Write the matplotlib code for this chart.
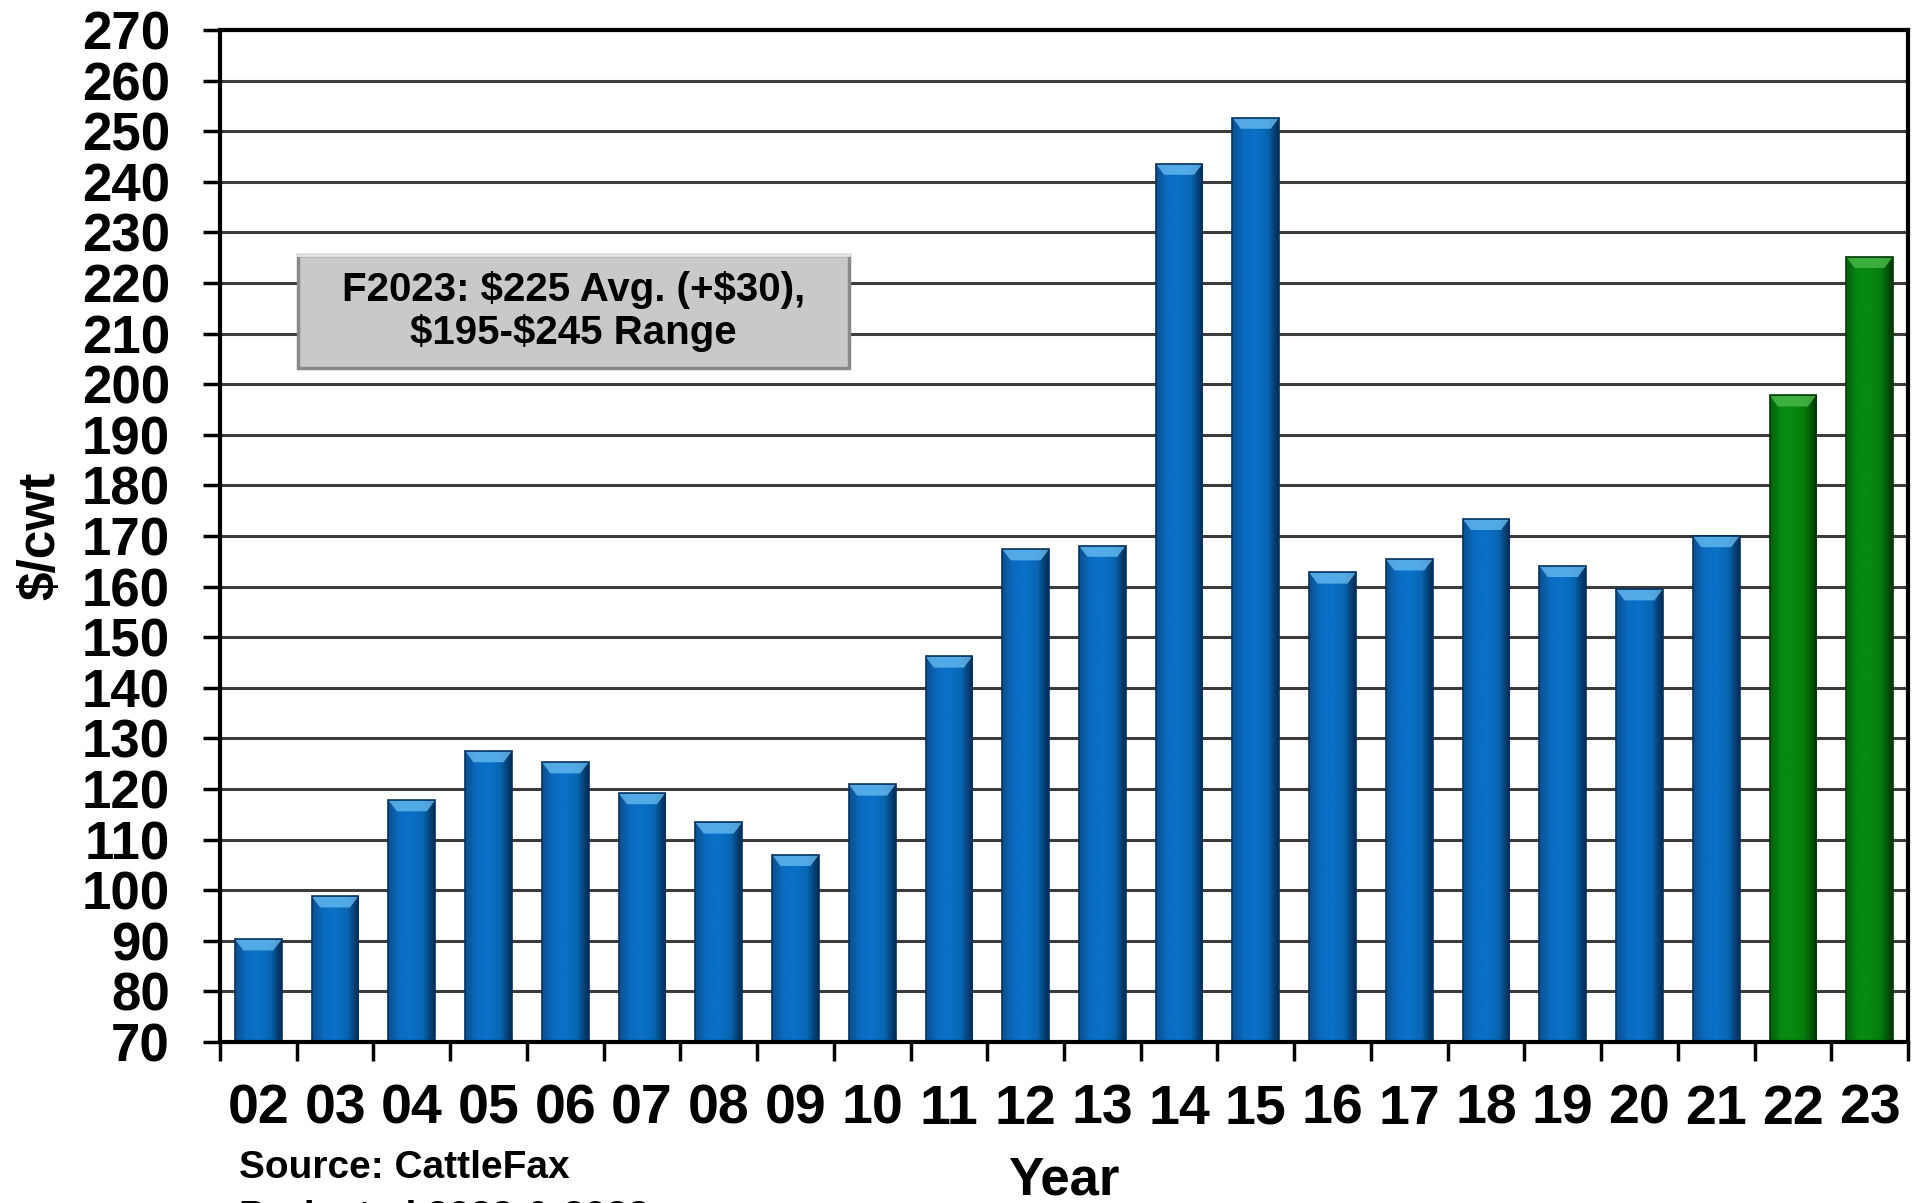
import numpy as np
import matplotlib
matplotlib.use("Agg")
import matplotlib.pyplot as plt
from matplotlib.colors import LinearSegmentedColormap
from matplotlib.patches import Rectangle

# Data
years = ["02", "03", "04", "05", "06", "07", "08", "09", "10", "11", "12",
         "13", "14", "15", "16", "17", "18", "19", "20", "21", "22", "23"]
prices = [90.3, 98.8, 117.8, 127.5, 125.3, 119.2, 113.4, 107.0, 120.9, 146.2, 167.4,
          168.1, 243.6, 252.7, 162.8, 165.4, 173.4, 164.1, 159.5, 170.0, 197.8, 225.2]
projected = ["22", "23"]
yticks = list(range(70, 271, 10))

box_text = "F2023: \\$225 Avg. (+\\$30),\n\\$195-\\$245 Range"
source_text = "Source: CattleFax"
note_text = "Projected 2022 & 2023"

plt.rcParams['font.family'] = ['Liberation Sans', 'DejaVu Sans']
plt.rcParams['font.weight'] = 'bold'

blue_cmap = LinearSegmentedColormap.from_list(
    "blue", ["#0b4f8f", "#0a6cc0", "#0a72c8", "#0866b2", "#032a50"])
green_cmap = LinearSegmentedColormap.from_list(
    "green", ["#045f0c", "#068a12", "#078a10", "#057a0c", "#023406"])

fig = plt.figure(figsize=(19.23, 12.03), dpi=100)
fig.set_facecolor("white")
ax = fig.add_axes([0.1144, 0.1338, 0.8778, 0.8412])

x = np.arange(len(years))
bar_width = 0.61
bars = ax.bar(x, [p - 70 for p in prices], bottom=70, width=bar_width,
              color="none", edgecolor="#062a4c", linewidth=1.2, zorder=3)

# gradient fill clipped to each bar
grad = np.linspace(0, 1, 256).reshape(1, -1)
for yr, patch in zip(years, bars):
    cmap = green_cmap if yr in projected else blue_cmap
    x0, y0 = patch.get_x(), patch.get_y()
    w, h = patch.get_width(), patch.get_height()
    im = ax.imshow(grad, cmap=cmap, aspect="auto", extent=[x0, x0 + w, y0, y0 + h],
                   zorder=2.5, interpolation="bicubic")
    im.set_clip_path(patch)
    # bevel highlight on top
    top_col = "#6cc0f5" if yr not in projected else "#4fbf4f"
    ax.fill([x0, x0 + w, x0 + w * 0.82, x0 + w * 0.18],
            [y0 + h, y0 + h, y0 + h - 2.2, y0 + h - 2.2],
            color=top_col, alpha=0.75, zorder=2.8, linewidth=0)
    edge_col = "#04325e" if yr not in projected else "#023a06"
    patch.set_edgecolor(edge_col)

ax.set_xlim(-0.5, len(years) - 0.5)
ax.set_ylim(70, 270)

ax.set_yticks(yticks)
ax.set_yticklabels([str(v) for v in yticks], fontsize=38, fontweight="bold")
ax.tick_params(axis="y", length=12, width=2.5, pad=24, direction="out", color="black")

# boundary ticks (no labels) and centred labels
ax.set_xticks(np.arange(-0.5, len(years), 1.0))
ax.set_xticklabels([])
ax.tick_params(axis="x", which="major", length=14, width=2.5, direction="out", color="black")
ax.set_xticks(x, minor=True)
ax.set_xticklabels(years, minor=True, fontsize=40, fontweight="bold")
ax.tick_params(axis="x", which="minor", length=0, pad=30)

ax.yaxis.grid(True, color="#3c3c3c", linewidth=2.2, zorder=1)
ax.set_axisbelow(True)
for side in ["left", "bottom", "right", "top"]:
    ax.spines[side].set_color("black")
    ax.spines[side].set_linewidth(3)
    ax.spines[side].set_zorder(4)

ax.set_ylabel("$/cwt", fontsize=37, fontweight="bold", labelpad=12)
ax.set_xlabel("Year", fontsize=38, fontweight="bold", labelpad=14)

# annotation box
box = Rectangle((0.0462, 0.666), 0.3264, 0.1117, transform=ax.transAxes,
                facecolor="#c9c9c9", edgecolor="#8a8a8a", linewidth=2.5, zorder=5)
ax.add_patch(box)
ax.plot([0.0462, 0.3726], [0.7777, 0.7777], transform=ax.transAxes,
        color="#e6e6e6", linewidth=2, zorder=5.5)
ax.text(0.2094, 0.7218, box_text, transform=ax.transAxes, ha="center", va="center",
        fontsize=29, fontweight="bold", linespacing=1.15, zorder=6)

fig.text(239 / 1923, 1 - 1168 / 1203, source_text, fontsize=28, fontweight="bold",
         ha="left", va="center")
fig.text(239 / 1923, 1 - 1218 / 1203, note_text, fontsize=28, fontweight="bold",
         ha="left", va="center")

fig.savefig("out.png", dpi=100, facecolor="white")
